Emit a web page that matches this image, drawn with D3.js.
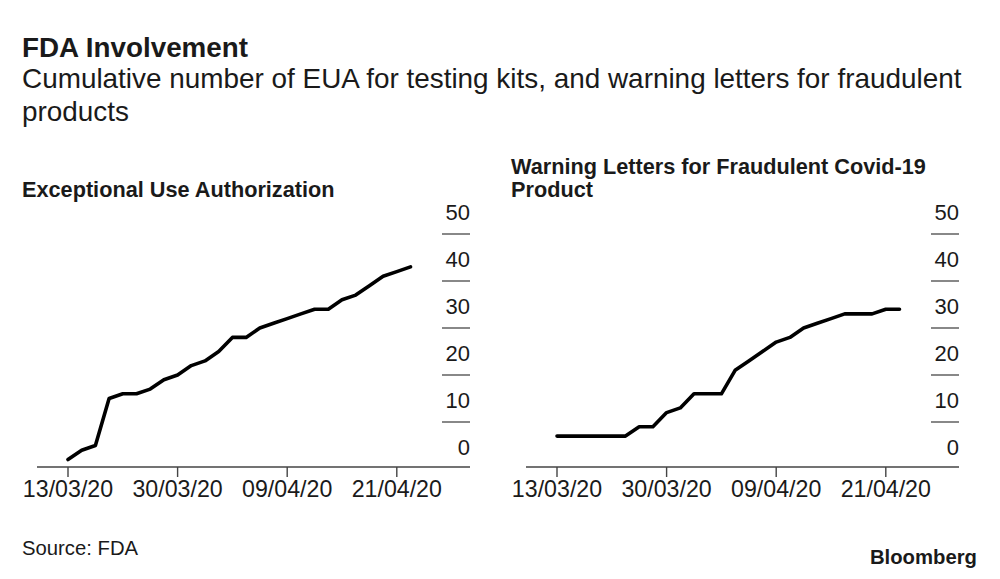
<!DOCTYPE html>
<html>
<head>
  <title>FDA Involvement</title>
  <script src="https://cdn.jsdelivr.net/npm/d3@7"></script>
  <style>
    body { margin: 0; background: #fff; }
    text { font-family: "Liberation Sans", Arial, sans-serif; fill: #1a1a1a; }
  </style>
</head>
<body>
  <script>
    // data points (one per reporting day)
    var dates = ['13/03/20','16/03/20','18/03/20','20/03/20','22/03/20','24/03/20','26/03/20','28/03/20',
                 '30/03/20','31/03/20','01/04/20','02/04/20','03/04/20','05/04/20','07/04/20','08/04/20',
                 '09/04/20','10/04/20','12/04/20','13/04/20','14/04/20','15/04/20','17/04/20','19/04/20',
                 '21/04/20','22/04/20'];
    var eua = [2,4,5,15,16,16,17,19,20,22,23,25,28,28,30,31,32,33,34,34,36,37,39,41,42,43];
    var warnings = [7,7,7,7,7,7,9,9,12,13,16,16,16,21,23,25,27,28,30,31,32,33,33,33,34,34];
    var tickDates = ['13/03/20','30/03/20','09/04/20','21/04/20'];
    var yTicks = [0,10,20,30,40,50];

    var width = 1000;
    var height = 579;

    var svg = d3.select('body')
          .append('svg')
          .attr('width', width)
          .attr('height', height);

    // headline
    svg.append('text').attr('x', 22).attr('y', 57)
      .style('font-size', '27.8px').style('font-weight', 'bold')
      .text('FDA Involvement');
    svg.append('text').attr('x', 22).attr('y', 88)
      .style('font-size', '27.9px')
      .text('Cumulative number of EUA for testing kits, and warning letters for fraudulent');
    svg.append('text').attr('x', 22).attr('y', 121)
      .style('font-size', '27.9px')
      .text('products');

    var y = d3.scaleLinear().domain([0, 50]).range([469, 234]);

    // one small multiple
    function panel(left, titleLines, values) {
      var g = svg.append('g');
      var x = d3.scalePoint().domain(dates).range([left + 31, left + 373.5]);

      titleLines.forEach(function (t, i) {
        g.append('text')
          .attr('x', left - 15)
          .attr('y', 197 - (titleLines.length - 1 - i) * 23.5)
          .style('font-size', '21.7px').style('font-weight', 'bold')
          .text(t);
      });

      // y ticks: label sits above its rule
      var yr = left + 433;
      g.selectAll('.yrule').data(yTicks.slice(1)).enter()
        .append('line')
        .attr('x1', yr - 28).attr('x2', yr)
        .attr('y1', function (d) { return y(d); })
        .attr('y2', function (d) { return y(d); })
        .attr('stroke', '#555').attr('stroke-width', 1.4);
      g.selectAll('.ylab').data(yTicks).enter()
        .append('text')
        .attr('x', yr)
        .attr('y', function (d) { return y(d) - 14; })
        .attr('text-anchor', 'end')
        .style('font-size', '22px')
        .text(function (d) { return d; });

      // x axis
      g.append('line')
        .attr('x1', left).attr('x2', yr)
        .attr('y1', 467).attr('y2', 467)
        .attr('stroke', '#444').attr('stroke-width', 1.4);
      g.selectAll('.xtick').data(tickDates).enter()
        .append('line')
        .attr('x1', function (d) { return x(d); })
        .attr('x2', function (d) { return x(d); })
        .attr('y1', 467).attr('y2', 477)
        .attr('stroke', '#444').attr('stroke-width', 1.4);
      g.selectAll('.xlab').data(tickDates).enter()
        .append('text')
        .attr('x', function (d) { return x(d); })
        .attr('y', 497)
        .attr('text-anchor', 'middle')
        .style('font-size', '23.2px')
        .text(function (d) { return d; });

      var line = d3.line()
        .x(function (d, i) { return x(dates[i]); })
        .y(function (d) { return y(d); });
      g.append('path')
        .datum(values)
        .attr('fill', 'none')
        .attr('stroke', '#000')
        .attr('stroke-width', 3.6)
        .attr('stroke-linejoin', 'round')
        .attr('stroke-linecap', 'round')
        .attr('d', line);
    }

    panel(37, ['Exceptional Use Authorization'], eua);
    panel(526, ['Warning Letters for Fraudulent Covid-19', 'Product'], warnings);

    // footer
    svg.append('text').attr('x', 22).attr('y', 555)
      .style('font-size', '20.3px').text('Source: FDA');
    svg.append('text').attr('x', 977).attr('y', 564)
      .attr('text-anchor', 'end')
      .style('font-size', '20.3px').style('font-weight', 'bold')
      .text('Bloomberg');
  </script>
</body>
</html>
